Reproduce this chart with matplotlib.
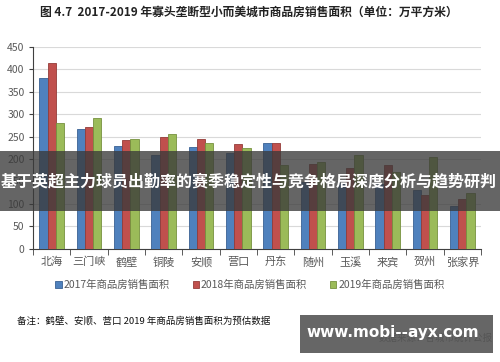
import numpy as np
import matplotlib.pyplot as plt
from matplotlib.patches import Rectangle

plt.rcParams['font.family'] = ['Noto Sans CJK SC', 'DejaVu Sans']

cities = ['北海', '三门峡', '鹤壁', '铜陵', '安顺', '营口', '丹东', '随州', '玉溪', '来宾', '贺州', '张家界']
area_2017 = [381, 267, 230, 209, 227, 213, 237, 148, 147, 145, 130, 95]
area_2018 = [415, 272, 242, 250, 245, 233, 237, 190, 180, 187, 120, 112]
area_2019 = [280, 291, 244, 256, 236, 224, 186, 193, 209, 172, 204, 125]
series_names = ['2017年商品房销售面积', '2018年商品房销售面积', '2019年商品房销售面积']
colors = ['#4F81BD', '#C0504D', '#9BBB59']
edge_colors = ['#3A6194', '#943C39', '#76913F']

fig = plt.figure(figsize=(5, 3.62), dpi=100)
ax = fig.add_axes([0.066, 0.313, 0.896, 0.557])

x = np.arange(len(cities))
w = 0.22
handles = []
for k, vals in enumerate([area_2017, area_2018, area_2019]):
    b = ax.bar(x + (k - 1) * w, vals, width=w, color=colors[k],
               edgecolor=edge_colors[k], linewidth=0.6, zorder=3)
    handles.append(b)

ax.set_xlim(-0.5, len(cities) - 0.5)
ax.set_ylim(0, 450)
ax.set_yticks(range(0, 451, 50))
ax.yaxis.grid(True, color='#D9D9D9', linewidth=0.8, zorder=0)
ax.set_xticks(x)
ax.set_xticklabels(cities)
ax.set_xticks(np.arange(-0.5, len(cities), 1), minor=True)
ax.tick_params(axis='x', which='major', length=0, pad=6, labelsize=8, labelcolor='#595959')
ax.tick_params(axis='x', which='minor', length=4, color='#404040', direction='out')
ax.tick_params(axis='y', length=3, color='#404040', labelsize=7.5, labelcolor='#595959', pad=3)
for s in ['top', 'right']:
    ax.spines[s].set_visible(False)
ax.spines['left'].set_color('#404040')
ax.spines['bottom'].set_color('#404040')

fig.legend(handles, series_names, loc='center', bbox_to_anchor=(0.5, 0.212), ncol=3,
           frameon=False, fontsize=7.5, handlelength=0.6, handleheight=0.6,
           handletextpad=0.2, columnspacing=2.2, labelcolor='#595959')

fig.text(0.497, 0.967, '图 4.7  2017-2019 年寡头垄断型小而美城市商品房销售面积（单位：万平方米）',
         ha='center', va='center', fontsize=8.5, fontweight='bold', color='#222222')

fig.text(0.034, 0.113, '备注：鹤壁、安顺、营口 2019 年商品房销售面积为预估数据',
         ha='left', va='center', fontsize=6.8, color='#111111')
fig.text(0.985, 0.066, '数据来源：各城市统计公报', ha='right', va='center',
         fontsize=6.8, color='#111111')

# overlay band with headline
fig.patches.append(Rectangle((0, 1 - 211 / 362), 1, 60 / 362, transform=fig.transFigure,
                             facecolor='#3a3a3a', alpha=0.78, zorder=10))
fig.text(0.497, 1 - 182 / 362, '基于英超主力球员出勤率的赛季稳定性与竞争格局深度分析与趋势研判',
         ha='center', va='center', fontsize=11.5, fontweight='bold', color='white', zorder=11)

# watermark box
fig.patches.append(Rectangle((300 / 500, 1 - 353 / 362), 193 / 500, 38 / 362,
                             transform=fig.transFigure, facecolor='#5a5a5a', alpha=0.93, zorder=10))
fig.text(393 / 500, 1 - 332 / 362, 'www.mobi--ayx.com', ha='center', va='center',
         fontsize=11, fontweight='bold', color='white', family='DejaVu Sans', zorder=11)

fig.savefig('out.png', dpi=100)
